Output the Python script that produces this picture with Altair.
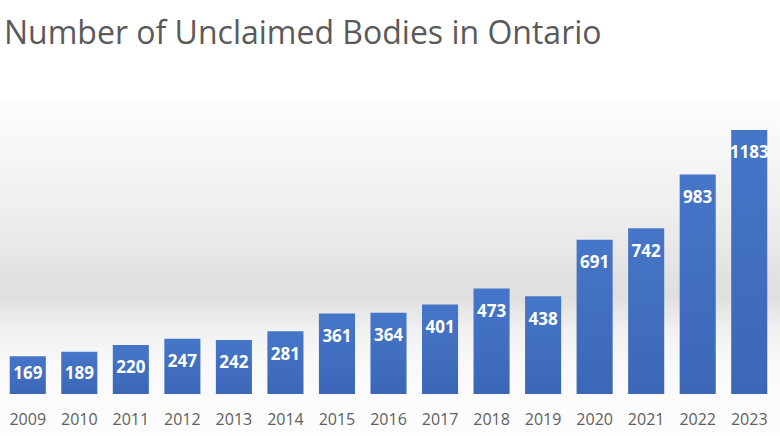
import altair as alt
import pandas as pd

years = ["2009", "2010", "2011", "2012", "2013", "2014", "2015", "2016",
         "2017", "2018", "2019", "2020", "2021", "2022", "2023"]
bodies = [169, 189, 220, 247, 242, 281, 361, 364, 401, 473, 438, 691, 742, 983, 1183]

df = pd.DataFrame({"year": years, "bodies": bodies})

W, H = 773, 294
ymax = 1317

xscale = alt.Scale(paddingInner=0.3, paddingOuter=0.15)
yscale = alt.Scale(domain=[0, ymax], nice=False, zero=True)

bg = alt.Chart(pd.DataFrame({"k": [0]})).mark_rect(
    color=alt.LinearGradient(
        gradient="linear", x1=0, x2=0, y1=0, y2=1,
        stops=[
            alt.GradientStop(offset=0.0, color="#fdfdfd"),
            alt.GradientStop(offset=0.15, color="#f7f7f7"),
            alt.GradientStop(offset=0.39, color="#ebebeb"),
            alt.GradientStop(offset=0.565, color="#dfdfdf"),
            alt.GradientStop(offset=0.595, color="#e1e1e1"),
            alt.GradientStop(offset=0.685, color="#f1f1f1"),
            alt.GradientStop(offset=0.79, color="#f9f9f9"),
            alt.GradientStop(offset=1.0, color="#fdfdfd"),
        ],
    )
).encode(
    x=alt.value(-2), x2=alt.value(W + 5), y=alt.value(0), y2=alt.value(H + 42)
)

bars = alt.Chart(df).mark_bar(
    color=alt.LinearGradient(
        gradient="linear", x1=0, x2=0, y1=0, y2=1,
        stops=[
            alt.GradientStop(offset=0.0, color="#4676c8"),
            alt.GradientStop(offset=1.0, color="#3c67b7"),
        ],
    )
).encode(
    x=alt.X("year:N", scale=xscale, sort=years,
            axis=alt.Axis(title=None, domain=False, ticks=False, grid=False,
                          labelAngle=0, labelFont="Open Sans", labelFontSize=16,
                          labelColor="#5f5f5f", labelPadding=17, zindex=2)),
    y=alt.Y("bodies:Q", scale=yscale, axis=None),
)

labels = alt.Chart(df).transform_calculate(
    label_y="max(datum.bodies - 105, 90)"
).mark_text(
    font="Open Sans", fontSize=17, fontWeight="bold", color="white",
    baseline="middle", align="center"
).encode(
    x=alt.X("year:N", scale=xscale, sort=years),
    y=alt.Y("label_y:Q", scale=yscale),
    text=alt.Text("bodies:Q"),
)

chart = alt.layer(bg, bars, labels).properties(
    width=W, height=H,
    autosize=alt.AutoSizeParams(type="none"),
    padding={"left": 2, "top": 100, "right": 5, "bottom": 42},
    title=alt.TitleParams(
        "Number of Unclaimed Bodies in Ontario",
        anchor="start", orient="top", font="Open Sans", fontSize=32,
        fontWeight="normal", color="#5a5a5a", baseline="alphabetic",
        offset=24, dx=4,
    ),
).configure_view(stroke=None).configure(background="white")

chart.save("out.html", embed_options={"renderer": "svg", "actions": False})
